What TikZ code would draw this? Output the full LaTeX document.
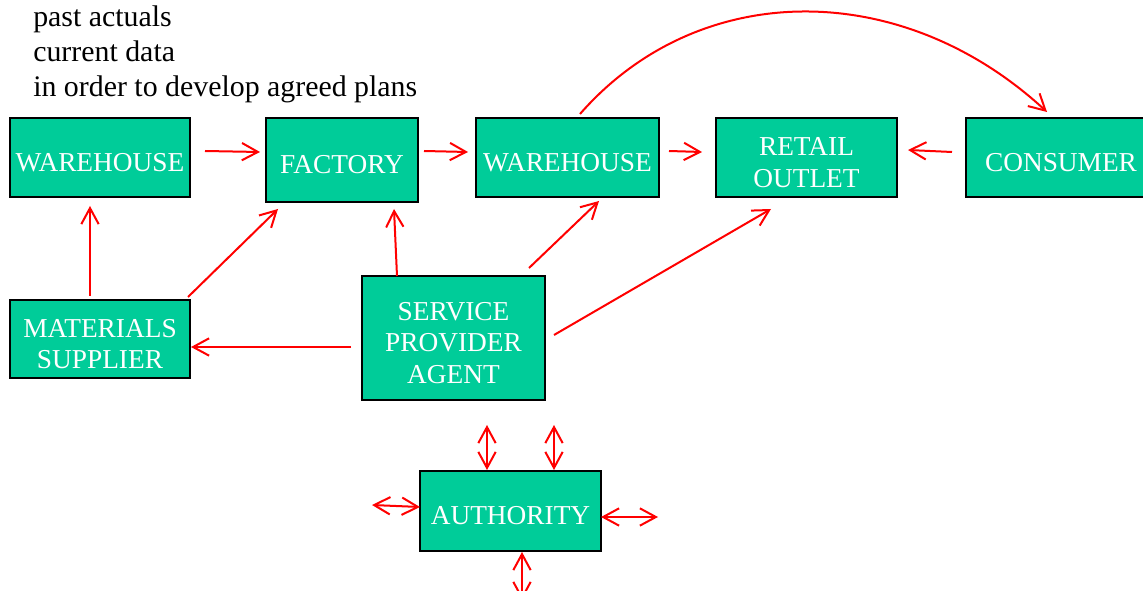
\documentclass[tikz,border=0pt]{standalone}
\usepackage{fontspec}
\setmainfont{Liberation Serif}
\usepackage{xcolor}
\definecolor{colorBox}{HTML}{00CC99}
\colorlet{colorFlow}{red}
\usepackage{tikz}
\usetikzlibrary{arrows.meta, calc}
\tikzset{box/.style={draw=black, line width=1.5pt, fill=colorBox, inner sep=0pt},
  boxtext/.style={text=white, align=center, inner sep=0pt, yshift=-3.75pt, font=\fontsize{20.5}{23.5}\selectfont}}

\begin{document}
\begin{tikzpicture}[x=0.75pt, y=-0.75pt, flow/.style={colorFlow, line width=1.5pt, -{Straight Barb[length=12pt,width=13pt]}}, twoway/.style={colorFlow, line width=1.5pt, {Straight Barb[length=12pt,width=13pt]}-{Straight Barb[length=12pt,width=13pt]}}]
\useasboundingbox (0,0) rectangle (1143,591);
\clip (0,0) rectangle (1143,591);
% notes
\node[anchor=base west, align=left, inner sep=0pt, font=\fontsize{22.4}{26.6}\selectfont] (notes) at (33,97) {past actuals\\current data\\in order to develop agreed plans};
% chain
\node[box, minimum width=135pt, minimum height=59.25pt, label={[boxtext]center:WAREHOUSE}] (wha) at (100,157.5) {};
\node[box, minimum width=114pt, minimum height=63pt, label={[boxtext]center:FACTORY}] (fac) at (342,160) {};
\node[box, minimum width=137.25pt, minimum height=59.25pt, label={[boxtext]center:WAREHOUSE}] (whb) at (567.5,157.5) {};
\node[box, minimum width=135.75pt, minimum height=59.25pt, label={[boxtext]center:RETAIL\\OUTLET}] (ret) at (806.5,157.5) {};
\node[box, minimum width=142.5pt, minimum height=59.25pt, label={[boxtext]center:CONSUMER}] (con) at (1061,157.5) {};
\node[box, minimum width=135pt, minimum height=58.5pt, label={[boxtext]center:MATERIALS\\SUPPLIER}] (mat) at (100,339) {};
\node[box, minimum width=137.25pt, minimum height=93pt, label={[boxtext]center:SERVICE\\PROVIDER\\AGENT}] (spa) at (453.5,338) {};
\node[box, minimum width=135.75pt, minimum height=60pt, label={[boxtext]center:AUTHORITY}] (aut) at (510.5,511) {};
% free ends
\coordinate (autw) at (372,505);
\coordinate (aute) at (658,517);
\coordinate (auts) at (522,600);
% flows
\draw[flow] ($(wha.east)+(14,-6.5)$) -- ($(fac.west)+(-5,-8)$);
\draw[flow] ($(fac.east)+(5,-9)$) -- ($(whb.west)+(-7,-5.5)$);
\draw[flow] ($(whb.east)+(9,-6.5)$) -- ($(ret.west)+(-13,-5.5)$);
\draw[flow] ($(con.west)+(-13,-5.5)$) -- ($(ret.east)+(10,-7.5)$);
\draw[flow] ($(mat.north)+(-10,-3)$) -- ($(wha.south)+(-10,8)$);
\draw[flow] ($(mat.north east)+(-3,-2)$) -- ($(fac.south west)+(13,6)$);
\draw[flow] ($(spa.north)+(-56.5,1)$) -- ($(fac.south)+(52,6)$);
\draw[flow] ($(spa.north east)+(-17,-7)$) -- ($(whb.south)+(31.5,3)$);
\draw[flow] ($(spa.east)+(8,-3)$) -- ($(ret.south)+(-35.5,11)$);
\draw[flow] ($(spa.west)+(-10,9)$) -- ($(mat.east)+(0,8)$);
\draw[flow] ($(whb.north)+(12.5,-3)$) .. controls (699,-22) and (902,-22) .. ($(con.north)+(-14,-5)$);
% authority
\draw[twoway] ($(aut.north)+(-23.5,0)$) -- ($(spa.south)+(33.5,24)$);
\draw[twoway] ($(aut.north)+(43.5,0)$) -- ($(spa.south)+(100.5,24)$);
\draw[twoway] ($(aut.west)+(1,-4)$) -- (autw);
\draw[twoway] ($(aut.east)+(-1,6)$) -- (aute);
\draw[twoway] ($(aut.south)+(11.5,0)$) -- (auts);
\end{tikzpicture}
\end{document}
